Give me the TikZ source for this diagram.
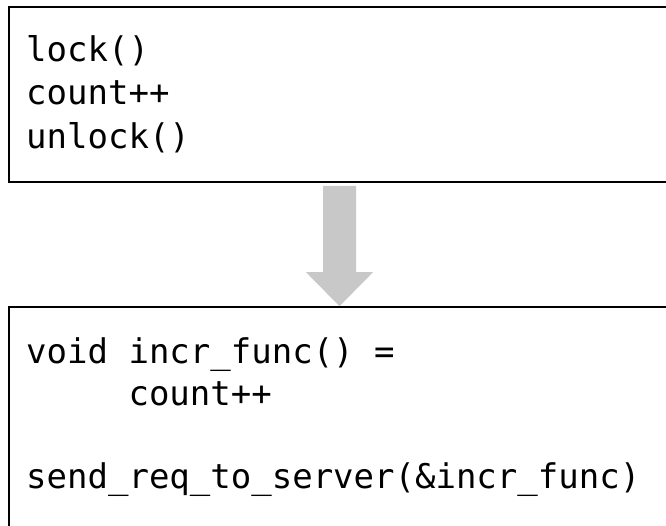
\documentclass[tikz,border=0pt]{standalone}
\usepackage{fontspec}
\setmonofont{DejaVu Sans Mono}
\usetikzlibrary{calc}
\definecolor{arrowgray}{RGB}{200,200,200}
\tikzset{
  codebox/.style={draw=black, line width=1.6pt, fill=white, inner sep=0pt, minimum width=661pt},
  codeline/.style={anchor=base west, inner sep=0pt, font=\ttfamily\fontsize{34}{40}\selectfont},
  blockarrow/.style={fill=arrowgray, draw=none}
}
\begin{document}
\begin{tikzpicture}[x=1pt,y=-1pt]
\clip (0,0) rectangle (666,525);
\fill[white] (0,0) rectangle (666,525);
\node[codebox, minimum height=175pt] (top) at (339.5,94.5) {};
\node[codebox, minimum height=233pt] (bot) at (339.5,423.5) {};
\node[codeline] (t1) at (26,61) {lock()};
\node[codeline] (t2) at (26,104.5) {count++};
\node[codeline] (t3) at (26,148) {unlock()};
\node[codeline] (b1) at (26,363) {void incr\_func() =};
\node[codeline] (b2) at (26,405) {\ \ \ \ \ count++};
\node[codeline] (b3) at (26,488) {send\_req\_to\_server(\&incr\_func)};
\fill[blockarrow] ($(top.south)+(-16.5,3)$) -- ($(top.south)+(16.5,3)$)
  -- ($(bot.north)+(16.5,-34)$) -- ($(bot.north)+(33.5,-34)$)
  -- (bot.north) -- ($(bot.north)+(-33.5,-34)$) -- ($(bot.north)+(-16.5,-34)$) -- cycle;
\end{tikzpicture}
\end{document}
